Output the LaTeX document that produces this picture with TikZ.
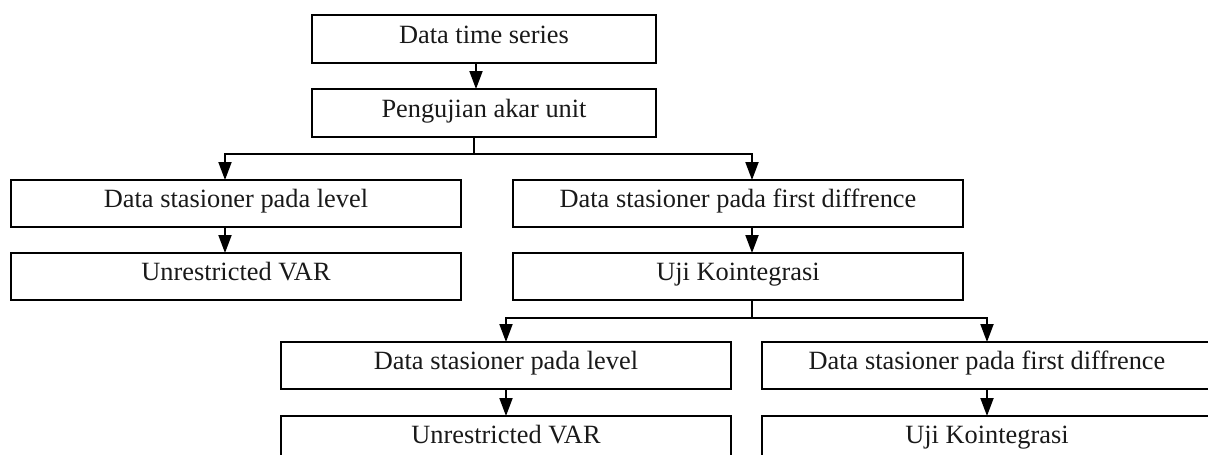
\documentclass[tikz,border=0pt]{standalone}
\usepackage{fontspec}
\setmainfont{Liberation Serif}
\usepackage{tikz}
\usetikzlibrary{arrows.meta,positioning}
\tikzset{%
	box/.style={draw=black, line width=1.5pt, minimum width=9cm, minimum height=0.94cm, inner sep=0pt, outer sep=0pt, text height=8pt, text depth=3.4pt, font=\fontsize{15}{17}\selectfont, text=black!90},
	topbox/.style={box, minimum width=6.88cm, minimum height=0.96cm},
	ln/.style={draw=black, line width=1.1pt},
	arr/.style={ln, -{Triangle[length=0.36cm, width=0.26cm]}}
}

\begin{document}
\begin{tikzpicture}
		\clip (0,0) rectangle (24.16,-9.08);
		\node[topbox] (series) at (9.68,-0.78) {Data time series};
		\node[topbox] (unitroot) [below=0.52cm of series] {Pengujian akar unit};
		
		\node[box] (level) at (4.72,-4.07) {Data stasioner pada level};
		\node[box] (diff) [right=1.04cm of level] {Data stasioner pada first diffrence};
		\node[box] (var) [below=0.52cm of level] {Unrestricted VAR};
		\node[box] (koint) [below=0.52cm of diff] {Uji Kointegrasi};
		
		\node[box] (levelb) at (10.12,-7.31) {Data stasioner pada level};
		\node[box] (diffb) [right=0.62cm of levelb] {Data stasioner pada first diffrence};
		\node[box] (varb) [below=0.54cm of levelb] {Unrestricted VAR};
		\node[box] (kointb) [below=0.54cm of diffb] {Uji Kointegrasi};
		
		\path[arr] ([xshift=-0.16cm]series.south) -- ([xshift=-0.16cm]unitroot.north);
		\path[ln] ([xshift=-0.2cm]unitroot.south) -- ++(0,-0.34) coordinate (split);
		\path[arr] (split) -| ([xshift=-0.22cm]level.north);
		\path[arr] (split) -| ([xshift=0.28cm]diff.north);
		\path[arr] ([xshift=-0.22cm]level.south) -- ([xshift=-0.22cm]var.north);
		\path[arr] ([xshift=0.28cm]diff.south) -- ([xshift=0.28cm]koint.north);
		
		\path[ln] ([xshift=0.28cm]koint.south) -- ++(0,-0.36) coordinate (splitb);
		\path[arr] (splitb) -| (levelb.north);
		\path[arr] (splitb) -| (diffb.north);
		\path[arr] (levelb) -- (varb);
		\path[arr] (diffb) -- (kointb);
\end{tikzpicture}
\end{document}
